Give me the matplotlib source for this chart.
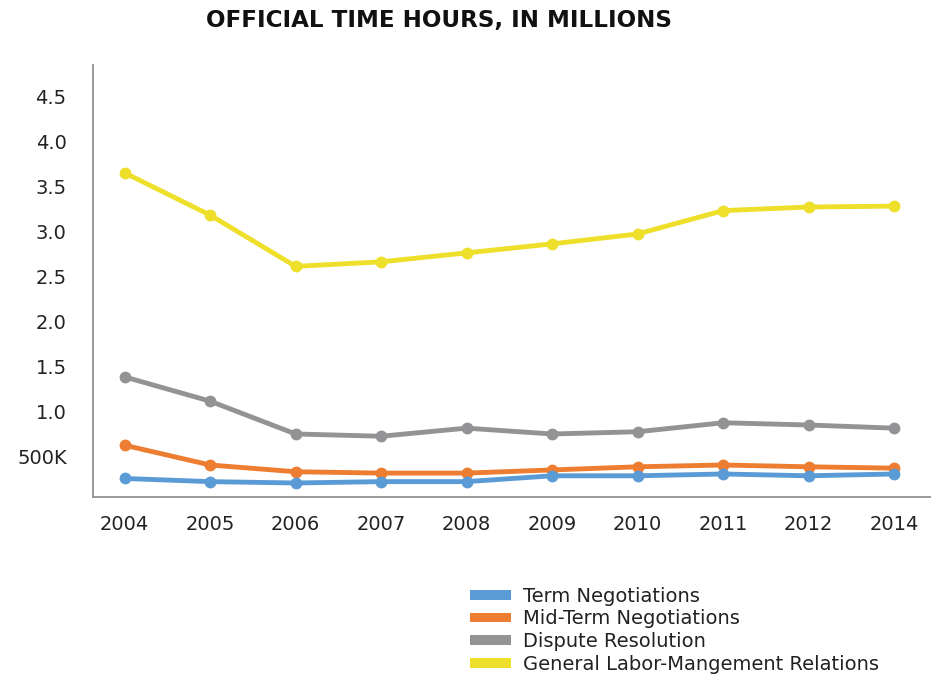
import matplotlib.pyplot as plt
from matplotlib.patches import Patch

years = ["2004", "2005", "2006", "2007", "2008", "2009", "2010", "2011", "2012", "2014"]

term_neg = [0.25, 0.215, 0.20, 0.215, 0.215, 0.28, 0.28, 0.30, 0.28, 0.30]
mid_term_neg = [0.62, 0.40, 0.325, 0.31, 0.31, 0.345, 0.38, 0.40, 0.38, 0.365]
dispute_res = [1.38, 1.11, 0.745, 0.72, 0.81, 0.745, 0.77, 0.87, 0.845, 0.81]
general_lmr = [3.65, 3.18, 2.61, 2.66, 2.76, 2.86, 2.97, 3.23, 3.27, 3.28]

series_names = ["Term Negotiations", "Mid-Term Negotiations",
                "Dispute Resolution", "General Labor-Mangement Relations"]
colors = ["#5B9BD5", "#ED7D31", "#939396", "#EEDF2B"]

ytick_vals = [0.5, 1.0, 1.5, 2.0, 2.5, 3.0, 3.5, 4.0, 4.5]
ytick_labels = ["500K", "1.0", "1.5", "2.0", "2.5", "3.0", "3.5", "4.0", "4.5"]

plt.rcParams['font.family'] = ['DejaVu Sans']

fig = plt.figure(figsize=(9.33, 6.75), dpi=100)
ax = fig.add_axes([0.0997, 0.2637, 0.897, 0.64])

x = list(range(len(years)))
# draw back-to-front so yellow sits beneath
for vals, c in zip([general_lmr, dispute_res, mid_term_neg, term_neg], colors[::-1]):
    ax.plot(x, vals, color=c, lw=3.5, marker='o', markersize=7.5,
            solid_capstyle='round')

ax.set_xlim(-0.37, 9.42)
ax.set_ylim(0.044, 4.85)
ax.set_xticks(x)
ax.set_xticklabels(years, fontsize=14, color='#222222')
ax.set_yticks(ytick_vals)
ax.set_yticklabels(ytick_labels, fontsize=14, color='#222222')
ax.tick_params(axis='both', length=0)
ax.tick_params(axis='y', pad=19)
ax.tick_params(axis='x', pad=13)

for s in ['top', 'right']:
    ax.spines[s].set_visible(False)
for s in ['left', 'bottom']:
    ax.spines[s].set_color('#9a9a9a')
    ax.spines[s].set_linewidth(1.4)

fig.text(0.4705, 0.969, "OFFICIAL TIME HOURS, IN MILLIONS", ha='center', va='center',
         fontsize=16.6, fontweight='bold', color='#111111')

handles = [Patch(facecolor=c, edgecolor='none') for c in colors]
fig.legend(handles, series_names, loc='upper left', bbox_to_anchor=(0.504, 0.131),
           frameon=False, fontsize=14, handlelength=2.1, handleheight=0.41,
           handletextpad=0.62, labelspacing=0.2, borderaxespad=0, borderpad=0,
           labelcolor='#222222')

fig.savefig("out.png", dpi=100)
